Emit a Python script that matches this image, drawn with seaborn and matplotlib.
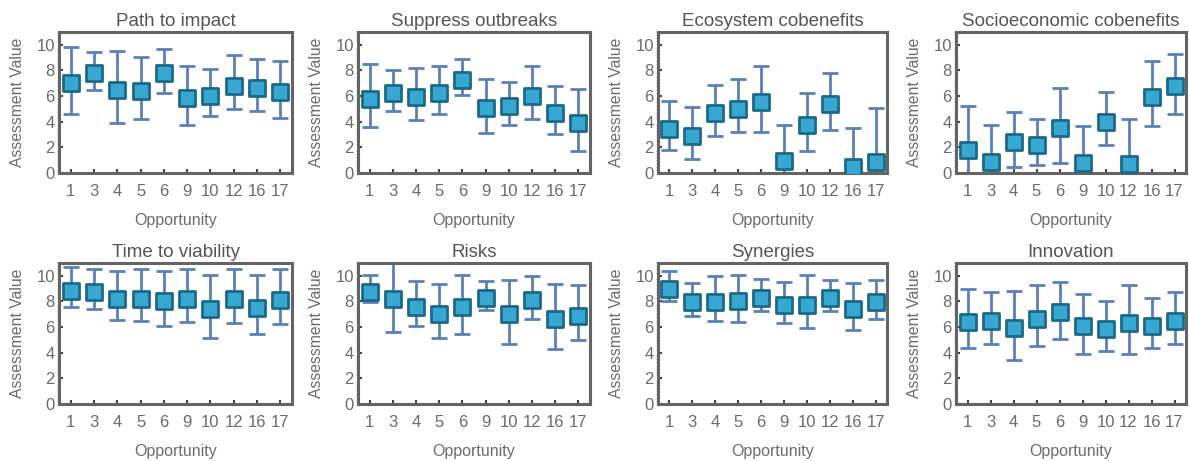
import matplotlib
matplotlib.use("Agg")
import matplotlib.pyplot as plt
from matplotlib.ticker import MultipleLocator
import pandas as pd
import seaborn as sns

sns.set_theme(style="white")
plt.rcParams['font.family'] = ['Liberation Sans', 'DejaVu Sans']

opportunities = ["1", "3", "4", "5", "6", "9", "10", "12", "16", "17"]

titles = ["Path to impact", "Suppress outbreaks", "Ecosystem cobenefits",
          "Socioeconomic cobenefits", "Time to viability", "Risks",
          "Synergies", "Innovation"]

path_mean = [7.0, 7.75, 6.5, 6.4, 7.75, 5.8, 6.0, 6.8, 6.65, 6.3]
path_lo = [4.6, 6.5, 3.9, 4.2, 6.2, 3.75, 4.4, 4.95, 4.8, 4.3]
path_hi = [9.8, 9.45, 9.5, 9.0, 9.65, 8.3, 8.1, 9.15, 8.9, 8.7]

supp_mean = [5.75, 6.2, 5.9, 6.25, 7.25, 5.05, 5.2, 6.0, 4.65, 3.9]
supp_lo = [3.6, 4.8, 4.1, 4.6, 6.05, 3.1, 3.7, 4.2, 3.0, 1.7]
supp_hi = [8.5, 8.05, 8.2, 8.35, 8.85, 7.3, 7.1, 8.35, 6.75, 6.55]

eco_mean = [3.45, 2.9, 4.65, 5.0, 5.55, 0.95, 3.75, 5.35, 0.5, 0.85]
eco_lo = [1.8, 1.1, 2.9, 3.2, 3.2, -1.5, 1.7, 3.35, -1.5, -1.5]
eco_hi = [5.6, 5.1, 6.85, 7.35, 8.3, 3.7, 6.25, 7.75, 3.5, 5.05]

socio_mean = [1.8, 0.85, 2.4, 2.15, 3.5, 0.8, 4.0, 0.7, 5.95, 6.75]
socio_lo = [-1.5, -1.5, 0.5, 0.6, 0.8, -1.5, 2.15, -1.5, 3.65, 4.6]
socio_hi = [5.25, 3.7, 4.75, 4.2, 6.65, 3.65, 6.3, 4.2, 8.7, 9.3]

time_mean = [8.85, 8.75, 8.2, 8.2, 8.0, 8.2, 7.4, 8.2, 7.5, 8.15]
time_lo = [7.55, 7.4, 6.55, 6.45, 6.05, 6.4, 5.15, 6.3, 5.45, 6.25]
time_hi = [10.7, 10.5, 10.4, 10.55, 10.35, 10.5, 10.1, 10.55, 10.1, 10.5]

risk_mean = [8.75, 8.2, 7.6, 7.0, 7.55, 8.25, 7.0, 8.1, 6.6, 6.85]
risk_lo = [7.95, 5.6, 6.1, 5.15, 5.45, 7.3, 4.7, 6.65, 4.3, 5.0]
risk_hi = [10.05, 11.5, 9.6, 9.4, 10.1, 9.6, 9.7, 9.95, 9.4, 9.3]

syn_mean = [9.0, 7.95, 7.95, 8.0, 8.25, 7.7, 7.75, 8.25, 7.4, 7.95]
syn_lo = [8.05, 6.85, 6.45, 6.4, 7.25, 6.35, 5.9, 7.25, 5.8, 6.65]
syn_hi = [10.35, 9.45, 9.95, 10.1, 9.75, 9.55, 10.1, 9.65, 9.45, 9.65]

inno_mean = [6.4, 6.5, 5.95, 6.65, 7.15, 6.05, 5.85, 6.35, 6.1, 6.45]
inno_lo = [4.35, 4.65, 3.45, 4.55, 5.05, 3.9, 4.1, 3.9, 4.4, 4.65]
inno_hi = [8.95, 8.7, 8.85, 9.25, 9.5, 8.6, 8.05, 9.25, 8.25, 8.7]

means = [path_mean, supp_mean, eco_mean, socio_mean, time_mean, risk_mean, syn_mean, inno_mean]
lows = [path_lo, supp_lo, eco_lo, socio_lo, time_lo, risk_lo, syn_lo, inno_lo]
highs = [path_hi, supp_hi, eco_hi, socio_hi, time_hi, risk_hi, syn_hi, inno_hi]

W, H = 1189, 461
fig = plt.figure(figsize=(W / 100, H / 100), dpi=100)

# frame boxes in pixels: left, width; row tops/bottoms
lefts = [59, 358, 658, 956]
widths = [233, 232, 229, 230]
rows = [(31.7, 173), (263, 404)]

txt = "#6b6b6b"
for i, title in enumerate(titles):
    r, c = divmod(i, 4)
    top, bot = rows[r]
    ax = fig.add_axes([lefts[c] / W, (H - bot) / H, widths[c] / W, (bot - top) / H])

    df = pd.DataFrame({"Opportunity": opportunities, "mean": means[i],
                       "lo": lows[i], "hi": highs[i]})
    x = range(len(df))
    ax.errorbar(x, df["mean"], yerr=[df["mean"] - df["lo"], df["hi"] - df["mean"]],
                fmt="none", ecolor="#5b80bb", elinewidth=2.0, capsize=6,
                capthick=2.0, zorder=2)
    sns.scatterplot(data=df, x="Opportunity", y="mean", marker="s", s=125,
                    color="#38a8d3", edgecolor="#1b6a86", linewidth=2.0,
                    zorder=3, ax=ax)

    ax.set_xlim(-0.5, len(opportunities) - 0.5)
    ax.set_ylim(0, 11)
    ax.set_yticks([0, 2, 4, 6, 8, 10])
    ax.yaxis.set_minor_locator(MultipleLocator(0.25))
    ax.set_title(title, fontsize=13.5, color="#555555", pad=4)
    ax.set_xlabel("Opportunity", fontsize=11.5, color=txt)
    ax.set_ylabel("Assessment Value", fontsize=11.3, color=txt)
    ax.xaxis.set_label_coords(0.5, -0.285)
    ax.yaxis.set_label_coords(-34 / widths[c], 0.5)

    ax.tick_params(axis="both", which="major", direction="in", length=3,
                   width=1.5, color="#444444", labelsize=12, labelcolor=txt)
    ax.tick_params(axis="x", pad=8, bottom=True)
    ax.tick_params(axis="y", pad=3, left=True)
    ax.tick_params(axis="y", which="minor", direction="out", length=1.5,
                   width=0.8, color="#999999", left=True)
    for sp in ax.spines.values():
        sp.set_color("#646464")
        sp.set_linewidth(2.2)
    ax.grid(False)

fig.savefig("out.png", dpi=100)
